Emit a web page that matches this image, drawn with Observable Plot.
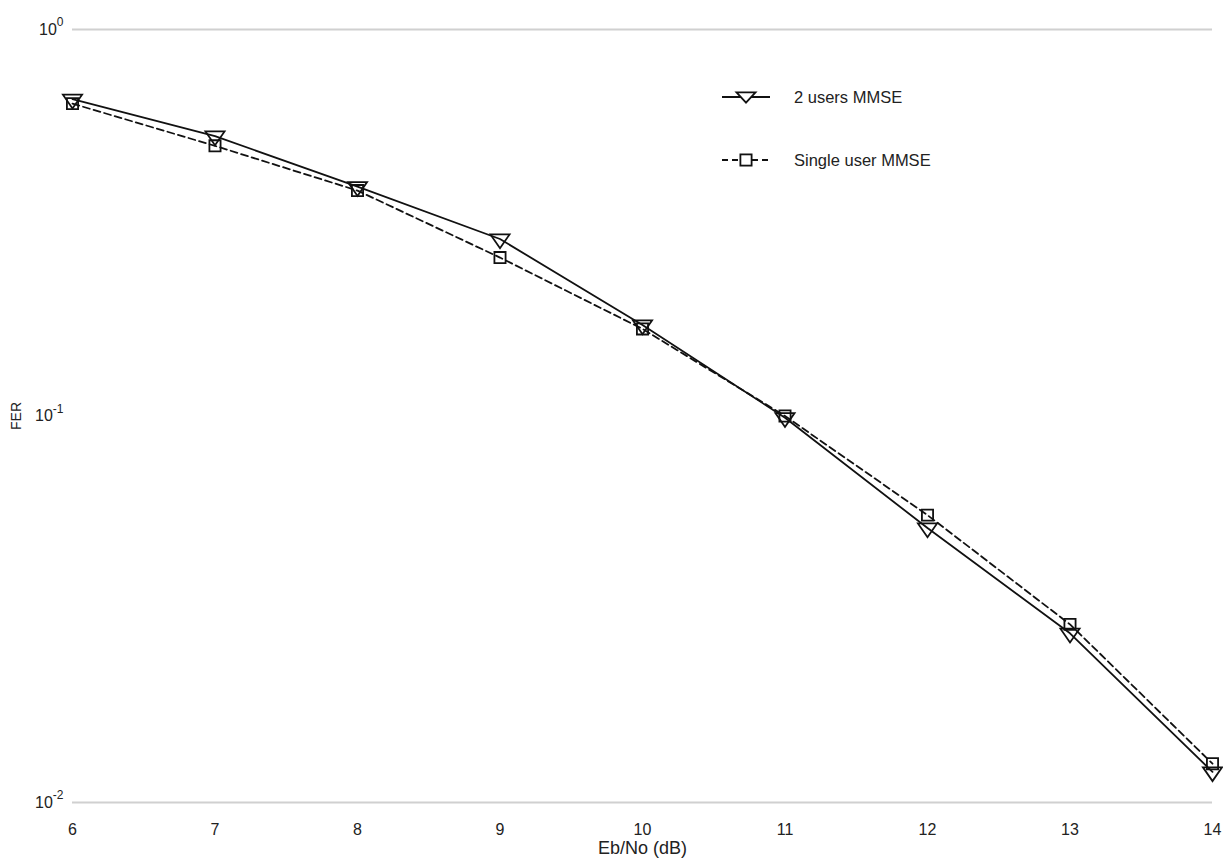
<!DOCTYPE html>
<html>
<head>
<meta charset="utf-8">
<script src="https://cdn.jsdelivr.net/npm/d3@7"></script>
<script src="https://cdn.jsdelivr.net/npm/@observablehq/plot@0.6"></script>
<style>
  body { margin: 0; background: #fff; font-family: "Liberation Sans", Arial, sans-serif; }
  #wrap { position: relative; width: 1223px; height: 860px; }
  #legend { position: absolute; left: 720px; top: 78px; font-size: 16.5px; color: #222; }
  #legend .row { display: flex; align-items: center; height: 38px; margin-bottom: 25px; }
  #legend svg { margin-right: 22px; }
</style>
</head>
<body>
<div id="wrap"></div>
<script>
// Data
const ebno = [6, 7, 8, 9, 10, 11, 12, 13, 14];
const twoUsersFER = [0.66, 0.53, 0.392, 0.287, 0.172, 0.099, 0.0513, 0.0274, 0.0120];
const singleUserFER = [0.643, 0.50, 0.383, 0.257, 0.168, 0.100, 0.0554, 0.0289, 0.0126];
const yTicks = [1, 0.1, 0.01];
const yTickLabels = ["10^0", "10^-1", "10^-2"];
const xTicks = [6, 7, 8, 9, 10, 11, 12, 13, 14];
const seriesNames = ["2 users MMSE", "Single user MMSE"];

const twoUsers = ebno.map((x, i) => ({x, y: twoUsersFER[i]}));
const singleUser = ebno.map((x, i) => ({x, y: singleUserFER[i]}));

// wide downward triangle symbol
const triDown = {
  draw(context, size) {
    const s = Math.sqrt(size);
    context.moveTo(-0.83 * s, -0.4 * s);
    context.lineTo(0.83 * s, -0.4 * s);
    context.lineTo(0, 0.8 * s);
    context.closePath();
  }
};

const chart = Plot.plot({
  width: 1223,
  height: 860,
  marginLeft: 72,
  marginRight: 11,
  marginTop: 29,
  marginBottom: 58,
  style: {fontFamily: "'Liberation Sans', Arial, sans-serif", fontSize: "16px", color: "#222", background: "#fff"},
  x: {domain: [6, 14], ticks: xTicks, tickSize: 0, tickPadding: 21, label: "Eb/No (dB)", labelAnchor: "center", labelArrow: "none", labelOffset: 51},
  y: {type: "log", domain: [0.01, 1], ticks: yTicks, tickSize: 0, tickPadding: 9,
      tickFormat: d => yTickLabels[yTicks.indexOf(d)] ?? "",
      label: "FER", labelAnchor: "center", labelArrow: "none", labelOffset: 61},
  marks: [
    Plot.ruleY([0.01, 1], {stroke: "#d0d0d0", strokeWidth: 2}),
    Plot.line(twoUsers, {x: "x", y: "y", stroke: "#111", strokeWidth: 1.8}),
    Plot.line(singleUser, {x: "x", y: "y", stroke: "#111", strokeWidth: 1.8, strokeDasharray: "7,4"}),
    Plot.dot(twoUsers, {x: "x", y: "y", symbol: triDown, r: 6.5, stroke: "#111", fill: "none", strokeWidth: 1.8}),
    Plot.dot(singleUser, {x: "x", y: "y", symbol: "square", r: 6.3, stroke: "#111", fill: "none", strokeWidth: 1.8})
  ]
});

// superscript exponents on the y tick labels
d3.select(chart).selectAll('g[aria-label="y-axis tick label"] text').each(function () {
  const t = this.textContent;
  const m = t.match(/^10\^(.+)$/);
  if (m) {
    const sel = d3.select(this);
    sel.text("10");
    sel.append("tspan").attr("dy", "-0.7em").attr("font-size", "12px").text(m[1]);
  }
});
// axis title sizes
d3.select(chart).selectAll('g[aria-label="x-axis label"]').attr("font-size", "18px");
d3.select(chart).selectAll('g[aria-label="y-axis label"]').attr("font-size", "14px");

const wrap = document.getElementById("wrap");
wrap.appendChild(chart);

// legend
const legend = document.createElement("div");
legend.id = "legend";
const mk = (dashed, sym) => {
  const line = `<line x1="2" y1="19" x2="50" y2="19" stroke="#111" stroke-width="1.8" ${dashed ? 'stroke-dasharray="6,4"' : ''}/>`;
  const s = sym === "tri"
    ? `<path d="M16.5,14.4 L35.5,14.4 L26,24.6 Z" fill="#fff" stroke="#111" stroke-width="1.8"/>`
    : `<rect x="20.4" y="13.4" width="11.2" height="11.2" fill="#fff" stroke="#111" stroke-width="1.8"/>`;
  return `<svg width="52" height="38">${line}${s}</svg>`;
};
legend.innerHTML =
  `<div class="row">${mk(false, "tri")}<span>${seriesNames[0]}</span></div>` +
  `<div class="row">${mk(true, "sq")}<span>${seriesNames[1]}</span></div>`;
wrap.appendChild(legend);
</script>
</body>
</html>
